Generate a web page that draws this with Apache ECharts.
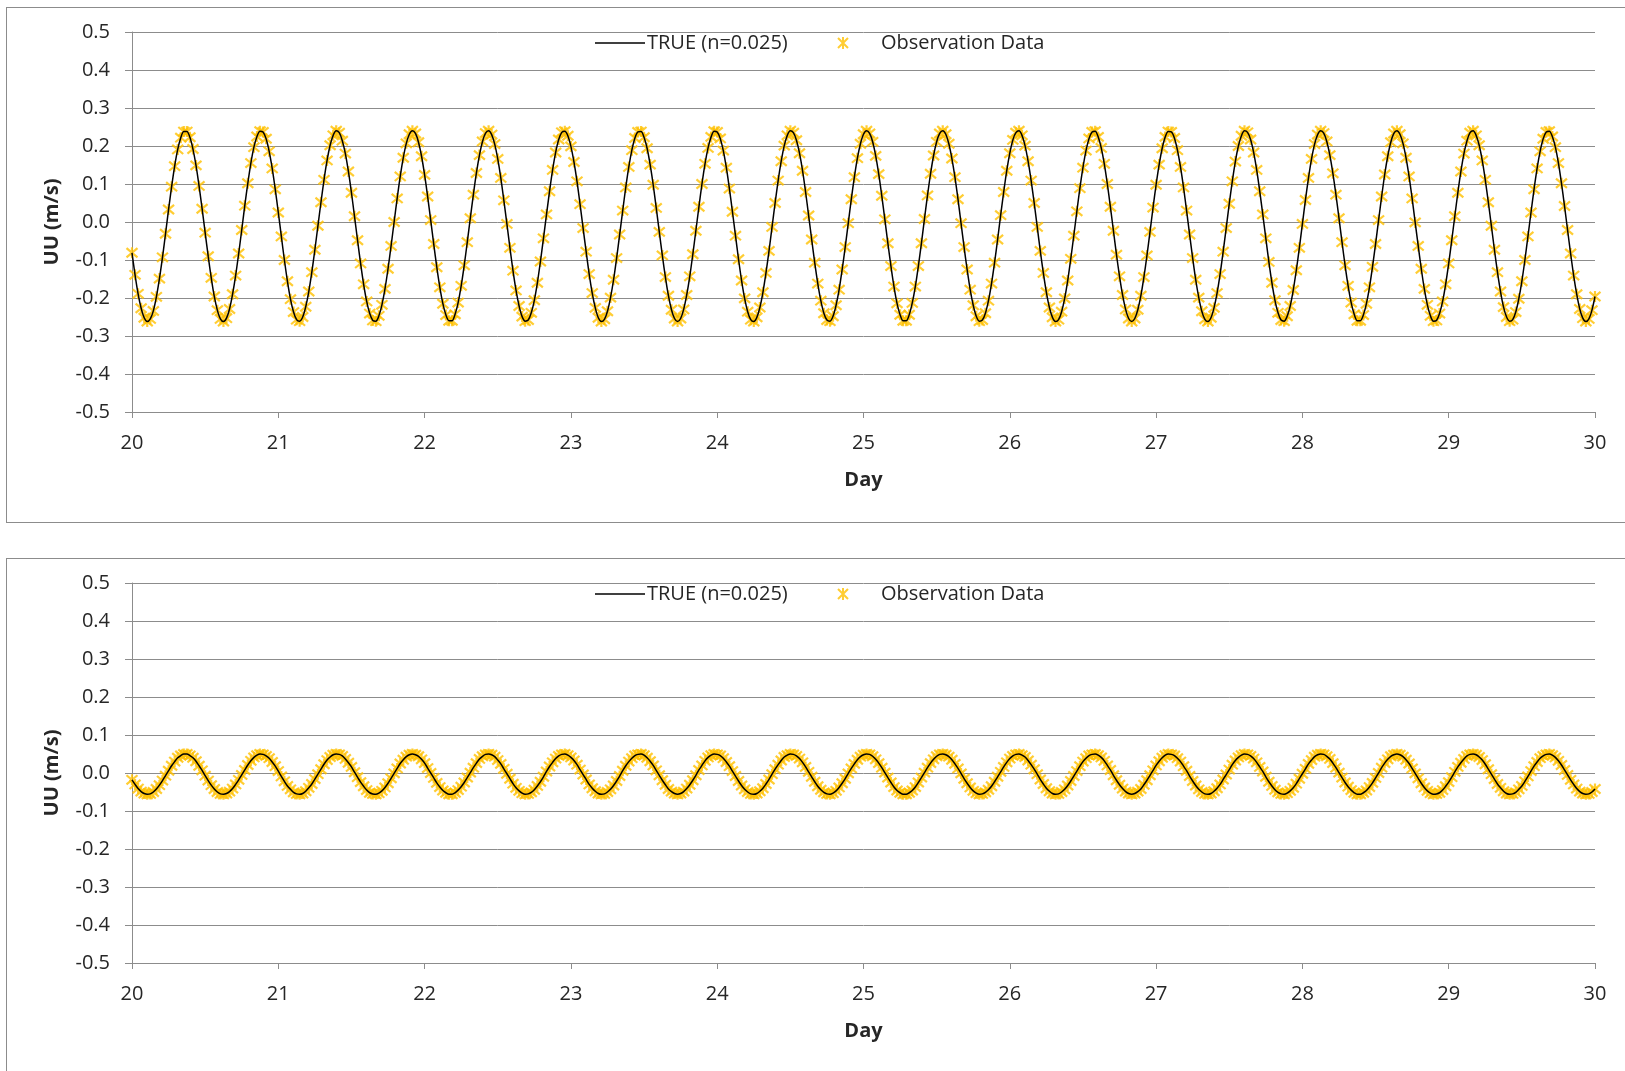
<!DOCTYPE html>
<html>
<head>
<meta charset="utf-8">
<title>UU velocity, days 20-30</title>
<script src="https://cdn.jsdelivr.net/npm/echarts@6/dist/echarts.min.js"></script>
<style>
  html, body { margin: 0; padding: 0; background: #fff; overflow: hidden; width: 1625px; height: 1071px; }
  .panel { position: absolute; left: 6px; width: 1640px; border: 1px solid #8c8c8c; background: #fff; }
  #upper { top: 7px; height: 514px; }
  #lower { top: 558px; height: 530px; }
</style>
</head>
<body>
<div id="upper" class="panel"></div>
<div id="lower" class="panel"></div>
<script>
// Sampling clock of the velocity record: one value every 30 minutes from day 20.
const firstDay = 20;
const stepDays = 1 / 48;

const seriesNames = ['TRUE (n=0.025)', 'Observation Data'];
const dayTicks = [20, 21, 22, 23, 24, 25, 26, 27, 28, 29, 30];

// Depth-averaged velocity UU (m/s), upper run.
const upperUU = [
  -0.081,-0.139,-0.189,-0.227,-0.252,-0.262,-0.255,-0.234,-0.197,-0.149,-0.093,-0.031,0.033,0.093,0.147,0.191,0.222,0.238,0.238,0.223,0.192,0.149,0.095,0.035,-0.028,
  -0.090,-0.147,-0.196,-0.232,-0.255,-0.262,-0.253,-0.229,-0.190,-0.141,-0.083,-0.021,0.043,0.102,0.155,0.197,0.225,0.239,0.237,0.219,0.186,0.141,0.086,0.025,-0.038,
  -0.100,-0.156,-0.203,-0.237,-0.257,-0.261,-0.250,-0.223,-0.183,-0.132,-0.073,-0.010,0.052,0.111,0.162,0.202,0.228,0.240,0.235,0.214,0.180,0.133,0.077,0.015,-0.048,
  -0.109,-0.164,-0.209,-0.241,-0.259,-0.261,-0.247,-0.218,-0.176,-0.123,-0.063,0.000,0.062,0.120,0.169,0.207,0.231,0.240,0.233,0.210,0.173,0.124,0.067,0.005,-0.058,
  -0.119,-0.172,-0.215,-0.245,-0.260,-0.260,-0.243,-0.212,-0.168,-0.114,-0.053,0.010,0.072,0.129,0.176,0.212,0.234,0.240,0.230,0.205,0.166,0.116,0.057,-0.005,-0.068,
  -0.128,-0.180,-0.221,-0.249,-0.261,-0.258,-0.239,-0.206,-0.160,-0.104,-0.043,0.020,0.081,0.137,0.183,0.217,0.236,0.239,0.227,0.199,0.158,0.107,0.047,-0.016,-0.078,
  -0.137,-0.187,-0.226,-0.252,-0.262,-0.256,-0.235,-0.199,-0.152,-0.095,-0.033,0.030,0.091,0.145,0.189,0.221,0.237,0.238,0.223,0.194,0.151,0.098,0.037,-0.026,-0.088,
  -0.145,-0.194,-0.231,-0.254,-0.262,-0.254,-0.230,-0.192,-0.143,-0.085,-0.023,0.040,0.100,0.153,0.195,0.224,0.239,0.237,0.220,0.188,0.143,0.088,0.027,-0.036,-0.098,
  -0.154,-0.201,-0.236,-0.257,-0.262,-0.251,-0.225,-0.185,-0.134,-0.076,-0.013,0.050,0.109,0.160,0.201,0.228,0.240,0.235,0.215,0.181,0.135,0.079,0.017,-0.046,-0.107,
  -0.162,-0.207,-0.240,-0.258,-0.261,-0.248,-0.219,-0.178,-0.125,-0.066,-0.003,0.060,0.118,0.168,0.206,0.231,0.240,0.233,0.211,0.174,0.126,0.069,0.007,-0.056,-0.116,
  -0.170,-0.214,-0.244,-0.260,-0.260,-0.244,-0.213,-0.170,-0.116,-0.056,0.008,0.070,0.127,0.175,0.211,0.233,0.240,0.231,0.206,0.167,0.118,0.060,-0.003,-0.066,-0.125,
  -0.178,-0.219,-0.248,-0.261,-0.258,-0.240,-0.207,-0.162,-0.107,-0.046,0.018,0.079,0.135,0.181,0.216,0.235,0.240,0.228,0.201,0.160,0.109,0.050,-0.013,-0.076,-0.134,
  -0.185,-0.225,-0.251,-0.262,-0.257,-0.236,-0.201,-0.154,-0.097,-0.036,0.028,0.089,0.143,0.188,0.220,0.237,0.239,0.224,0.195,0.153,0.100,0.040,-0.023,-0.086,-0.143,
  -0.192,-0.230,-0.254,-0.262,-0.254,-0.231,-0.194,-0.145,-0.088,-0.026,0.038,0.098,0.151,0.194,0.224,0.238,0.237,0.221,0.189,0.145,0.091,0.030,-0.033,-0.095,-0.152,
  -0.199,-0.235,-0.256,-0.262,-0.252,-0.226,-0.187,-0.137,-0.078,-0.016,0.048,0.107,0.159,0.200,0.227,0.240,0.236,0.217,0.183,0.137,0.081,0.020,-0.043,-0.105,-0.160,
  -0.206,-0.239,-0.258,-0.261,-0.248,-0.221,-0.179,-0.127,-0.068,-0.005,0.058,0.116,0.166,0.205,0.230,0.240,0.234,0.212,0.176,0.128,0.072,0.010,-0.053,-0.114,-0.168,
  -0.212,-0.243,-0.260,-0.260,-0.245,-0.215,-0.172,-0.118,-0.058,0.005,0.067,0.125,0.173,0.210,0.233,0.240,0.231,0.207,0.169,0.120,0.062,-0.001,-0.063,-0.123,-0.176,
  -0.218,-0.247,-0.261,-0.259,-0.241,-0.209,-0.164,-0.109,-0.048,0.015,0.077,0.133,0.180,0.214,0.235,0.240,0.228,0.202,0.162,0.111,0.052,-0.010,-0.073,-0.132,-0.183,
  -0.224,-0.250,-0.261,-0.257,-0.237,-0.202,-0.156,-0.100,-0.038,0.025,0.086,0.141,0.186,0.219,0.237,0.239,0.225,0.197,0.155,0.102,0.042,-0.021,-0.083,-0.141,-0.190,
  -0.229,-0.253,-0.262,-0.255,-0.232,-0.196
];

// Depth-averaged velocity UU (m/s), lower run.
const lowerUU = [
  -0.018,-0.030,-0.041,-0.049,-0.054,-0.056,-0.055,-0.050,-0.042,-0.032,-0.020,-0.007,0.006,0.019,0.030,0.040,0.046,0.050,0.050,0.046,0.040,0.031,0.019,0.007,-0.007,
  -0.020,-0.032,-0.042,-0.050,-0.055,-0.056,-0.054,-0.049,-0.041,-0.030,-0.018,-0.005,0.008,0.021,0.032,0.041,0.047,0.050,0.049,0.045,0.039,0.029,0.018,0.005,-0.009,
  -0.022,-0.034,-0.043,-0.051,-0.055,-0.056,-0.054,-0.048,-0.039,-0.029,-0.016,-0.003,0.010,0.023,0.034,0.042,0.048,0.050,0.049,0.045,0.037,0.027,0.016,0.002,-0.011,
  -0.024,-0.035,-0.045,-0.052,-0.055,-0.056,-0.053,-0.047,-0.038,-0.027,-0.014,-0.001,0.012,0.025,0.035,0.043,0.048,0.050,0.048,0.044,0.036,0.026,0.013,0.000,-0.013,
  -0.026,-0.037,-0.046,-0.052,-0.056,-0.056,-0.052,-0.045,-0.036,-0.025,-0.012,0.001,0.014,0.026,0.037,0.044,0.049,0.050,0.048,0.043,0.034,0.024,0.011,-0.002,-0.015,
  -0.028,-0.039,-0.047,-0.053,-0.056,-0.055,-0.051,-0.044,-0.034,-0.023,-0.010,0.004,0.017,0.028,0.038,0.045,0.049,0.050,0.047,0.041,0.033,0.022,0.009,-0.004,-0.017,
  -0.030,-0.040,-0.048,-0.054,-0.056,-0.055,-0.050,-0.043,-0.033,-0.021,-0.008,0.006,0.019,0.030,0.039,0.046,0.049,0.050,0.047,0.040,0.031,0.020,0.007,-0.006,-0.019,
  -0.031,-0.042,-0.049,-0.054,-0.056,-0.054,-0.049,-0.041,-0.031,-0.019,-0.006,0.008,0.020,0.032,0.041,0.047,0.050,0.049,0.046,0.039,0.029,0.018,0.005,-0.008,-0.021,
  -0.033,-0.043,-0.050,-0.055,-0.056,-0.054,-0.048,-0.040,-0.029,-0.017,-0.003,0.010,0.022,0.033,0.042,0.047,0.050,0.049,0.045,0.038,0.028,0.016,0.003,-0.010,-0.023,
  -0.035,-0.044,-0.051,-0.055,-0.056,-0.053,-0.047,-0.038,-0.027,-0.015,-0.001,0.012,0.024,0.035,0.043,0.048,0.050,0.049,0.044,0.036,0.026,0.014,0.001,-0.012,-0.025,
  -0.037,-0.046,-0.052,-0.056,-0.056,-0.052,-0.046,-0.037,-0.025,-0.012,0.001,0.014,0.026,0.036,0.044,0.049,0.050,0.048,0.043,0.035,0.024,0.012,-0.001,-0.015,-0.027,
  -0.038,-0.047,-0.053,-0.056,-0.055,-0.051,-0.044,-0.035,-0.023,-0.010,0.003,0.016,0.028,0.038,0.045,0.049,0.050,0.047,0.042,0.033,0.022,0.010,-0.003,-0.017,-0.029,
  -0.040,-0.048,-0.054,-0.056,-0.055,-0.050,-0.043,-0.033,-0.021,-0.008,0.005,0.018,0.030,0.039,0.046,0.049,0.050,0.047,0.041,0.032,0.020,0.008,-0.006,-0.019,-0.031,
  -0.041,-0.049,-0.054,-0.056,-0.054,-0.049,-0.042,-0.031,-0.019,-0.006,0.007,0.020,0.031,0.040,0.047,0.050,0.049,0.046,0.039,0.030,0.018,0.006,-0.008,-0.021,-0.033,
  -0.043,-0.050,-0.055,-0.056,-0.054,-0.048,-0.040,-0.030,-0.017,-0.004,0.009,0.022,0.033,0.041,0.047,0.050,0.049,0.045,0.038,0.028,0.016,0.004,-0.010,-0.023,-0.034,
  -0.044,-0.051,-0.055,-0.056,-0.053,-0.047,-0.039,-0.028,-0.015,-0.002,0.011,0.024,0.034,0.043,0.048,0.050,0.049,0.044,0.037,0.026,0.014,0.001,-0.012,-0.025,-0.036,
  -0.045,-0.052,-0.056,-0.056,-0.052,-0.046,-0.037,-0.026,-0.013,0.000,0.014,0.026,0.036,0.044,0.048,0.050,0.048,0.043,0.035,0.025,0.012,-0.001,-0.014,-0.027,-0.038,
  -0.047,-0.053,-0.056,-0.055,-0.052,-0.045,-0.035,-0.024,-0.011,0.003,0.016,0.027,0.037,0.045,0.049,0.050,0.048,0.042,0.034,0.023,0.010,-0.003,-0.016,-0.029,-0.039,
  -0.048,-0.054,-0.056,-0.055,-0.051,-0.043,-0.034,-0.022,-0.009,0.005,0.018,0.029,0.039,0.045,0.049,0.050,0.047,0.041,0.032,0.021,0.008,-0.005,-0.018,-0.030,-0.041,
  -0.049,-0.054,-0.056,-0.055,-0.050,-0.042
];

const FONT = '"Open Sans", "Noto Sans", sans-serif';
const TEXT = '#262626';
const RULE = '#8c8c8c';
const GOLD = '#FFC000';
const FS = 20;
// Excel-style star marker: an X crossed by a vertical stroke.
const STAR = 'path://M0,0L10,10M10,0L0,10M5,-1L5,11';

function toPairs(values) {
  return values.map((v, i) => [firstDay + i * stepDays, v]);
}

function panelOption(values) {
  const pts = toPairs(values);
  return {
    animation: false,
    textStyle: { fontFamily: FONT, color: TEXT },
    legend: [
      {
        // plain black key line for the model curve
        data: [{ name: seriesNames[0], icon: 'rect' }],
        left: 583, top: 20,
        itemWidth: 50, itemHeight: 1.5,
        textStyle: { fontFamily: FONT, fontSize: FS, color: TEXT, padding: [0, 0, 0, -3] }
      },
      {
        data: [seriesNames[1]],
        left: 825, top: 20,
        itemWidth: 12, itemHeight: 12,
        textStyle: { fontFamily: FONT, fontSize: FS, color: TEXT, padding: [0, 0, 0, 27] }
      }
    ],
    grid: { left: 125, top: 24, width: 1463, height: 380 },
    xAxis: {
      type: 'value', min: dayTicks[0], max: dayTicks[dayTicks.length - 1], interval: 1,
      name: 'Day', nameLocation: 'middle', nameGap: 58,
      nameTextStyle: { fontFamily: FONT, fontWeight: 'bold', fontSize: FS, color: TEXT },
      axisLine: { onZero: false, lineStyle: { color: RULE, width: 1 } },
      axisTick: { show: true, length: 6, lineStyle: { color: RULE } },
      axisLabel: { margin: 21, fontSize: FS, color: TEXT, fontFamily: FONT },
      splitLine: { show: false }
    },
    yAxis: {
      type: 'value', min: -0.5, max: 0.5, interval: 0.1,
      name: 'UU (m/s)', nameLocation: 'middle', nameGap: 70, nameRotate: 90,
      nameTextStyle: { fontFamily: FONT, fontWeight: 'bold', fontSize: FS, color: TEXT },
      axisLine: { show: true, lineStyle: { color: RULE, width: 1 } },
      axisTick: { show: true, length: 7, lineStyle: { color: RULE } },
      axisLabel: {
        margin: 22, fontSize: FS, color: TEXT, fontFamily: FONT,
        formatter: v => (Math.abs(v) < 1e-9 ? 0 : v).toFixed(1)
      },
      splitLine: { show: true, lineStyle: { color: RULE, width: 1 } }
    },
    series: [
      {
        name: seriesNames[1], type: 'scatter', data: pts,
        symbol: STAR, symbolSize: 11,
        itemStyle: { color: 'rgba(0,0,0,0)', borderColor: GOLD, borderWidth: 2.2 },
        z: 2
      },
      {
        name: seriesNames[0], type: 'line', data: pts,
        smooth: 0.3, symbol: 'none', showSymbol: false,
        lineStyle: { color: '#000', width: 1.5 },
        itemStyle: { color: '#000' },
        z: 3
      }
    ]
  };
}

echarts.init(document.getElementById('upper')).setOption(panelOption(upperUU));
echarts.init(document.getElementById('lower')).setOption(panelOption(lowerUU));
</script>
</body>
</html>
